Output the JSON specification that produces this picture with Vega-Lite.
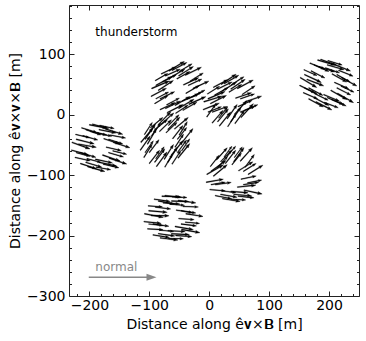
{
  "$schema": "https://vega.github.io/schema/vega-lite/v6.json",
  "width": 290,
  "height": 291,
  "autosize": "none",
  "padding": {"left": 69, "top": 5, "right": 7, "bottom": 45},
  "background": "white",
  "config": {
    "font": "DejaVu Sans",
    "view": {"stroke": "#222", "strokeWidth": 1},
    "axis": {
      "grid": false,
      "domainColor": "#222",
      "tickColor": "#222",
      "labelColor": "black",
      "titleColor": "black",
      "labelFontSize": 14,
      "titleFontSize": 14,
      "titleFontWeight": "normal",
      "labelFont": "DejaVu Sans",
      "titleFont": "DejaVu Sans"
    }
  },
  "datasets": {
    "arrows": [
      {"x":-62,"y":73,"d":28,"l":28},{"x":-50,"y":71,"d":31,"l":25},{"x":-40,"y":65,"d":26,"l":30},{"x":-32,"y":55,"d":32,"l":26},{"x":-27,"y":43,"d":25,"l":29},{"x":-28,"y":29,"d":29,"l":24},{"x":-34,"y":17,"d":24,"l":31},{"x":-44,"y":7,"d":30,"l":27},{"x":-56,"y":2,"d":33,"l":25},{"x":-70,"y":3,"d":27,"l":30},{"x":-82,"y":8,"d":25,"l":28},{"x":-91,"y":18,"d":31,"l":26},{"x":-97,"y":30,"d":28,"l":29},{"x":-96,"y":43,"d":23,"l":32},{"x":-90,"y":56,"d":30,"l":24},{"x":-80,"y":67,"d":26,"l":27},{"x":-67,"y":72,"d":32,"l":30},{"x":-54,"y":59,"d":29,"l":25},{"x":-43,"y":49,"d":25,"l":28},{"x":-39,"y":35,"d":30,"l":26},{"x":-45,"y":22,"d":24,"l":31},{"x":-57,"y":15,"d":31,"l":29},{"x":-71,"y":16,"d":28,"l":24},{"x":-82,"y":26,"d":26,"l":27},{"x":-85,"y":40,"d":33,"l":30},{"x":-78,"y":54,"d":27,"l":26},{"x":-65,"y":61,"d":30,"l":28},{"x":-35,"y":48,"d":25,"l":25},{"x":-51,"y":64,"d":32,"l":29},{"x":-73,"y":64,"d":24,"l":27},{"x":-89,"y":48,"d":29,"l":31},{"x":-89,"y":26,"d":28,"l":24},{"x":-73,"y":10,"d":26,"l":28},{"x":-51,"y":10,"d":31,"l":30},{"x":-35,"y":26,"d":27,"l":26},

      {"x":25,"y":51,"d":30,"l":28},{"x":37,"y":49,"d":33,"l":25},{"x":47,"y":43,"d":28,"l":30},{"x":55,"y":33,"d":34,"l":26},{"x":60,"y":21,"d":19,"l":29},{"x":59,"y":7,"d":23,"l":24},{"x":53,"y":-5,"d":48,"l":31},{"x":43,"y":-15,"d":54,"l":27},{"x":31,"y":-20,"d":57,"l":25},{"x":17,"y":-19,"d":51,"l":30},{"x":5,"y":-14,"d":49,"l":28},{"x":-4,"y":-4,"d":55,"l":26},{"x":-10,"y":8,"d":22,"l":29},{"x":-9,"y":21,"d":17,"l":32},{"x":-3,"y":34,"d":32,"l":24},{"x":7,"y":45,"d":28,"l":27},{"x":20,"y":50,"d":34,"l":30},{"x":33,"y":37,"d":31,"l":25},{"x":44,"y":27,"d":19,"l":28},{"x":48,"y":13,"d":24,"l":26},{"x":42,"y":0,"d":48,"l":31},{"x":30,"y":-7,"d":55,"l":29},{"x":16,"y":-6,"d":52,"l":24},{"x":5,"y":4,"d":20,"l":27},{"x":2,"y":18,"d":27,"l":30},{"x":9,"y":32,"d":29,"l":26},{"x":22,"y":39,"d":32,"l":28},{"x":52,"y":26,"d":19,"l":25},{"x":36,"y":42,"d":34,"l":29},{"x":14,"y":42,"d":26,"l":27},{"x":-2,"y":26,"d":23,"l":31},{"x":-2,"y":4,"d":22,"l":24},{"x":14,"y":-12,"d":50,"l":28},{"x":36,"y":-12,"d":55,"l":30},{"x":52,"y":4,"d":21,"l":26},

      {"x":186,"y":91,"d":-20,"l":28},{"x":198,"y":89,"d":-17,"l":25},{"x":208,"y":83,"d":-22,"l":30},{"x":216,"y":73,"d":-22,"l":26},{"x":221,"y":61,"d":-29,"l":29},{"x":220,"y":47,"d":-25,"l":24},{"x":214,"y":35,"d":-30,"l":31},{"x":204,"y":25,"d":-24,"l":27},{"x":192,"y":20,"d":-21,"l":25},{"x":178,"y":21,"d":-27,"l":30},{"x":166,"y":26,"d":-29,"l":28},{"x":157,"y":36,"d":-23,"l":26},{"x":151,"y":48,"d":-26,"l":29},{"x":152,"y":61,"d":-31,"l":32},{"x":158,"y":74,"d":-24,"l":24},{"x":168,"y":85,"d":-22,"l":27},{"x":181,"y":90,"d":-16,"l":30},{"x":194,"y":77,"d":-19,"l":25},{"x":205,"y":67,"d":-29,"l":28},{"x":209,"y":53,"d":-24,"l":26},{"x":203,"y":40,"d":-30,"l":31},{"x":191,"y":33,"d":-23,"l":29},{"x":177,"y":34,"d":-26,"l":24},{"x":166,"y":44,"d":-28,"l":27},{"x":163,"y":58,"d":-21,"l":30},{"x":170,"y":72,"d":-27,"l":26},{"x":183,"y":79,"d":-18,"l":28},{"x":213,"y":66,"d":-29,"l":25},{"x":197,"y":82,"d":-16,"l":29},{"x":175,"y":82,"d":-24,"l":27},{"x":159,"y":66,"d":-25,"l":31},{"x":159,"y":44,"d":-26,"l":24},{"x":175,"y":28,"d":-28,"l":28},{"x":197,"y":28,"d":-23,"l":30},{"x":213,"y":44,"d":-27,"l":26},

      {"x":-195,"y":-16,"d":-15,"l":28},{"x":-183,"y":-18,"d":-12,"l":25},{"x":-173,"y":-24,"d":-17,"l":30},{"x":-165,"y":-34,"d":-11,"l":26},{"x":-160,"y":-46,"d":-18,"l":29},{"x":-161,"y":-60,"d":-14,"l":24},{"x":-167,"y":-72,"d":-19,"l":31},{"x":-177,"y":-82,"d":-13,"l":27},{"x":-189,"y":-87,"d":-10,"l":25},{"x":-203,"y":-86,"d":-16,"l":30},{"x":-215,"y":-81,"d":-18,"l":28},{"x":-224,"y":-71,"d":-12,"l":26},{"x":-230,"y":-59,"d":-15,"l":29},{"x":-229,"y":-46,"d":-20,"l":32},{"x":-223,"y":-33,"d":-13,"l":24},{"x":-213,"y":-22,"d":-17,"l":27},{"x":-200,"y":-17,"d":-11,"l":30},{"x":-187,"y":-30,"d":-14,"l":25},{"x":-176,"y":-40,"d":-18,"l":28},{"x":-172,"y":-54,"d":-13,"l":26},{"x":-178,"y":-67,"d":-19,"l":31},{"x":-190,"y":-74,"d":-12,"l":29},{"x":-204,"y":-73,"d":-15,"l":24},{"x":-215,"y":-63,"d":-17,"l":27},{"x":-218,"y":-49,"d":-10,"l":30},{"x":-211,"y":-35,"d":-16,"l":26},{"x":-198,"y":-28,"d":-13,"l":28},{"x":-168,"y":-41,"d":-18,"l":25},{"x":-184,"y":-25,"d":-11,"l":29},{"x":-206,"y":-25,"d":-19,"l":27},{"x":-222,"y":-41,"d":-14,"l":31},{"x":-222,"y":-63,"d":-15,"l":24},{"x":-206,"y":-79,"d":-17,"l":28},{"x":-184,"y":-79,"d":-12,"l":30},{"x":-168,"y":-63,"d":-16,"l":26},

      {"x":-80,"y":-16,"d":42,"l":28},{"x":-68,"y":-18,"d":45,"l":25},{"x":-58,"y":-24,"d":40,"l":30},{"x":-50,"y":-34,"d":59,"l":26},{"x":-45,"y":-46,"d":52,"l":29},{"x":-46,"y":-60,"d":56,"l":24},{"x":-52,"y":-72,"d":51,"l":31},{"x":-62,"y":-82,"d":57,"l":27},{"x":-74,"y":-87,"d":60,"l":25},{"x":-88,"y":-86,"d":54,"l":30},{"x":-100,"y":-81,"d":52,"l":28},{"x":-109,"y":-71,"d":58,"l":26},{"x":-115,"y":-59,"d":55,"l":29},{"x":-114,"y":-46,"d":50,"l":32},{"x":-108,"y":-33,"d":57,"l":24},{"x":-98,"y":-22,"d":40,"l":27},{"x":-85,"y":-17,"d":46,"l":30},{"x":-72,"y":-30,"d":43,"l":25},{"x":-61,"y":-40,"d":52,"l":28},{"x":-57,"y":-54,"d":57,"l":26},{"x":-63,"y":-67,"d":51,"l":31},{"x":-75,"y":-74,"d":58,"l":29},{"x":-89,"y":-73,"d":55,"l":24},{"x":-100,"y":-63,"d":53,"l":27},{"x":-103,"y":-49,"d":60,"l":30},{"x":-96,"y":-35,"d":54,"l":26},{"x":-83,"y":-28,"d":44,"l":28},{"x":-53,"y":-41,"d":52,"l":25},{"x":-69,"y":-25,"d":46,"l":29},{"x":-91,"y":-25,"d":38,"l":27},{"x":-107,"y":-41,"d":56,"l":31},{"x":-107,"y":-63,"d":55,"l":24},{"x":-91,"y":-79,"d":53,"l":28},{"x":-69,"y":-79,"d":58,"l":30},{"x":-53,"y":-63,"d":54,"l":26},

      {"x":30,"y":-69,"d":50,"l":22},{"x":42,"y":-71,"d":53,"l":22},{"x":52,"y":-77,"d":48,"l":30},{"x":60,"y":-87,"d":54,"l":26},{"x":65,"y":-99,"d":32,"l":29},{"x":64,"y":-113,"d":11,"l":24},{"x":58,"y":-125,"d":-12,"l":31},{"x":48,"y":-135,"d":-6,"l":27},{"x":36,"y":-140,"d":-3,"l":25},{"x":22,"y":-139,"d":-9,"l":30},{"x":10,"y":-134,"d":-11,"l":28},{"x":1,"y":-124,"d":-5,"l":26},{"x":-5,"y":-112,"d":10,"l":29},{"x":-4,"y":-99,"d":30,"l":32},{"x":2,"y":-86,"d":52,"l":24},{"x":12,"y":-75,"d":48,"l":27},{"x":25,"y":-70,"d":54,"l":22},{"x":38,"y":-83,"d":51,"l":25},{"x":49,"y":-93,"d":32,"l":28},{"x":53,"y":-107,"d":12,"l":26},{"x":47,"y":-120,"d":6,"l":31},{"x":36,"y":-127,"d":-5,"l":29},{"x":21,"y":-126,"d":-8,"l":24},{"x":10,"y":-116,"d":8,"l":27},{"x":7,"y":-102,"d":40,"l":30},{"x":14,"y":-88,"d":49,"l":26},{"x":27,"y":-81,"d":52,"l":28},{"x":57,"y":-94,"d":32,"l":25},{"x":41,"y":-78,"d":54,"l":29},{"x":19,"y":-78,"d":46,"l":27},{"x":3,"y":-94,"d":36,"l":31},{"x":3,"y":-116,"d":10,"l":24},{"x":19,"y":-132,"d":-10,"l":28},{"x":41,"y":-132,"d":-5,"l":30},{"x":57,"y":-116,"d":9,"l":26},

      {"x":-74,"y":-134,"d":-6,"l":28},{"x":-62,"y":-136,"d":-3,"l":25},{"x":-52,"y":-142,"d":-8,"l":30},{"x":-44,"y":-152,"d":-2,"l":26},{"x":-39,"y":-164,"d":-9,"l":29},{"x":-40,"y":-178,"d":-5,"l":24},{"x":-46,"y":-190,"d":-10,"l":31},{"x":-56,"y":-200,"d":-4,"l":27},{"x":-68,"y":-205,"d":-1,"l":25},{"x":-82,"y":-204,"d":-7,"l":30},{"x":-94,"y":-199,"d":-9,"l":28},{"x":-103,"y":-189,"d":-3,"l":26},{"x":-109,"y":-177,"d":-6,"l":29},{"x":-108,"y":-164,"d":-11,"l":32},{"x":-102,"y":-151,"d":-4,"l":24},{"x":-92,"y":-140,"d":-8,"l":27},{"x":-79,"y":-135,"d":-2,"l":30},{"x":-66,"y":-148,"d":-5,"l":25},{"x":-55,"y":-158,"d":-9,"l":28},{"x":-51,"y":-172,"d":-4,"l":26},{"x":-57,"y":-185,"d":-10,"l":31},{"x":-69,"y":-192,"d":-3,"l":29},{"x":-83,"y":-191,"d":-6,"l":24},{"x":-94,"y":-181,"d":-8,"l":27},{"x":-97,"y":-167,"d":-1,"l":30},{"x":-90,"y":-153,"d":-7,"l":26},{"x":-77,"y":-146,"d":-4,"l":28},{"x":-47,"y":-159,"d":-9,"l":25},{"x":-63,"y":-143,"d":-2,"l":29},{"x":-85,"y":-143,"d":-10,"l":27},{"x":-101,"y":-159,"d":-5,"l":31},{"x":-101,"y":-181,"d":-6,"l":24},{"x":-85,"y":-197,"d":-8,"l":28},{"x":-63,"y":-197,"d":-3,"l":30},{"x":-47,"y":-181,"d":-7,"l":26}
    ],
    "normal": [{"x0": -201, "x1": -102, "xt": -88, "y": -269}],
    "labels": [{"label": "normal", "x": -190, "y": -259}],
    "storm": [{"label": "thunderstorm", "x": -190, "y": 130}]
  },
  "layer": [
    {
      "mark": {"type": "rule", "strokeDash": [5, 4], "color": "#888", "strokeWidth": 1},
      "encoding": {
        "x": {
          "datum": 0, "type": "quantitative",
          "scale": {"domain": [-234, 250], "nice": false, "zero": false},
          "axis": {
            "orient": "top", "labels": false, "title": null, "domain": false,
            "values": [-220,-200,-180,-160,-140,-120,-100,-80,-60,-40,-20,0,20,40,60,80,100,120,140,160,180,200,220,240],
            "tickSize": {"condition": {"test": "datum.value % 100 === 0", "value": -5}, "value": -2.5}
          }
        }
      }
    },
    {
      "mark": {"type": "rule", "strokeDash": [5, 4], "color": "#888", "strokeWidth": 1},
      "encoding": {
        "y": {
          "datum": 0, "type": "quantitative",
          "scale": {"domain": [-300, 181], "nice": false, "zero": false},
          "axis": {
            "orient": "right", "labels": false, "title": null, "domain": false,
            "values": [-300,-280,-260,-240,-220,-200,-180,-160,-140,-120,-100,-80,-60,-40,-20,0,20,40,60,80,100,120,140,160,180],
            "tickSize": {"condition": {"test": "datum.value % 100 === 0", "value": -5}, "value": -2.5}
          }
        }
      }
    },
    {
      "data": {"name": "arrows"},
      "mark": {
        "type": "point",
        "shape": "M0,-0.05L1.58,-0.05L1.52,-0.16L2,0L1.52,0.16L1.58,0.05L0,0.05Z",
        "filled": true,
        "color": "black",
        "opacity": 1,
        "stroke": "black",
        "strokeWidth": 0.35
      },
      "encoding": {
        "x": {
          "field": "x", "type": "quantitative",
          "scale": {"domain": [-234, 250], "nice": false, "zero": false},
          "axis": {
            "orient": "bottom", "title": "Distance along ê𝐯×𝐁 [m]", "domain": false,
            "values": [-220,-200,-180,-160,-140,-120,-100,-80,-60,-40,-20,0,20,40,60,80,100,120,140,160,180,200,220,240],
            "labelExpr": "datum.value % 100 === 0 ? datum.label : ''",
            "tickSize": {"condition": {"test": "datum.value % 100 === 0", "value": -5}, "value": -2.5},
            "labelPadding": 7, "titlePadding": 5
          }
        },
        "y": {
          "field": "y", "type": "quantitative",
          "scale": {"domain": [-300, 181], "nice": false, "zero": false},
          "axis": {
            "orient": "left", "title": "Distance along ê𝐯×𝐯×𝐁 [m]", "domain": false,
            "values": [-300,-280,-260,-240,-220,-200,-180,-160,-140,-120,-100,-80,-60,-40,-20,0,20,40,60,80,100,120,140,160,180],
            "labelExpr": "datum.value % 100 === 0 ? datum.label : ''",
            "tickSize": {"condition": {"test": "datum.value % 100 === 0", "value": -5}, "value": -2.5},
            "labelPadding": 9, "titlePadding": 4
          }
        },
        "angle": {"field": "d", "type": "quantitative", "scale": {"domain": [-180, 180], "range": [180, -180]}, "legend": null},
        "size": {"field": "l", "type": "quantitative", "scale": {"type": "pow", "exponent": 2, "domain": [0, 40], "range": [0, 576]}, "legend": null}
      }
    },
    {
      "data": {"name": "normal"},
      "mark": {"type": "rule", "color": "#888", "strokeWidth": 1.6},
      "encoding": {
        "x": {"field": "x0", "type": "quantitative", "axis": null},
        "x2": {"field": "x1"},
        "y": {"field": "y", "type": "quantitative", "axis": null}
      }
    },
    {
      "data": {"name": "normal"},
      "mark": {"type": "point", "shape": "M-2,-0.7L0,0L-2,0.7Z", "filled": true, "color": "#888", "opacity": 1, "size": 100},
      "encoding": {
        "x": {"field": "xt", "type": "quantitative", "axis": null},
        "y": {"field": "y", "type": "quantitative", "axis": null}
      }
    },
    {
      "data": {"name": "labels"},
      "mark": {"type": "text", "align": "left", "baseline": "alphabetic", "fontSize": 12, "color": "#888", "font": "DejaVu Sans"},
      "encoding": {
        "x": {"field": "x", "type": "quantitative", "axis": null},
        "y": {"field": "y", "type": "quantitative", "axis": null},
        "text": {"field": "label"}
      }
    },
    {
      "data": {"name": "storm"},
      "mark": {"type": "text", "align": "left", "baseline": "alphabetic", "fontSize": 12, "color": "black", "font": "DejaVu Sans"},
      "encoding": {
        "x": {"field": "x", "type": "quantitative", "axis": null},
        "y": {"field": "y", "type": "quantitative", "axis": null},
        "text": {"field": "label"}
      }
    }
  ]
}
